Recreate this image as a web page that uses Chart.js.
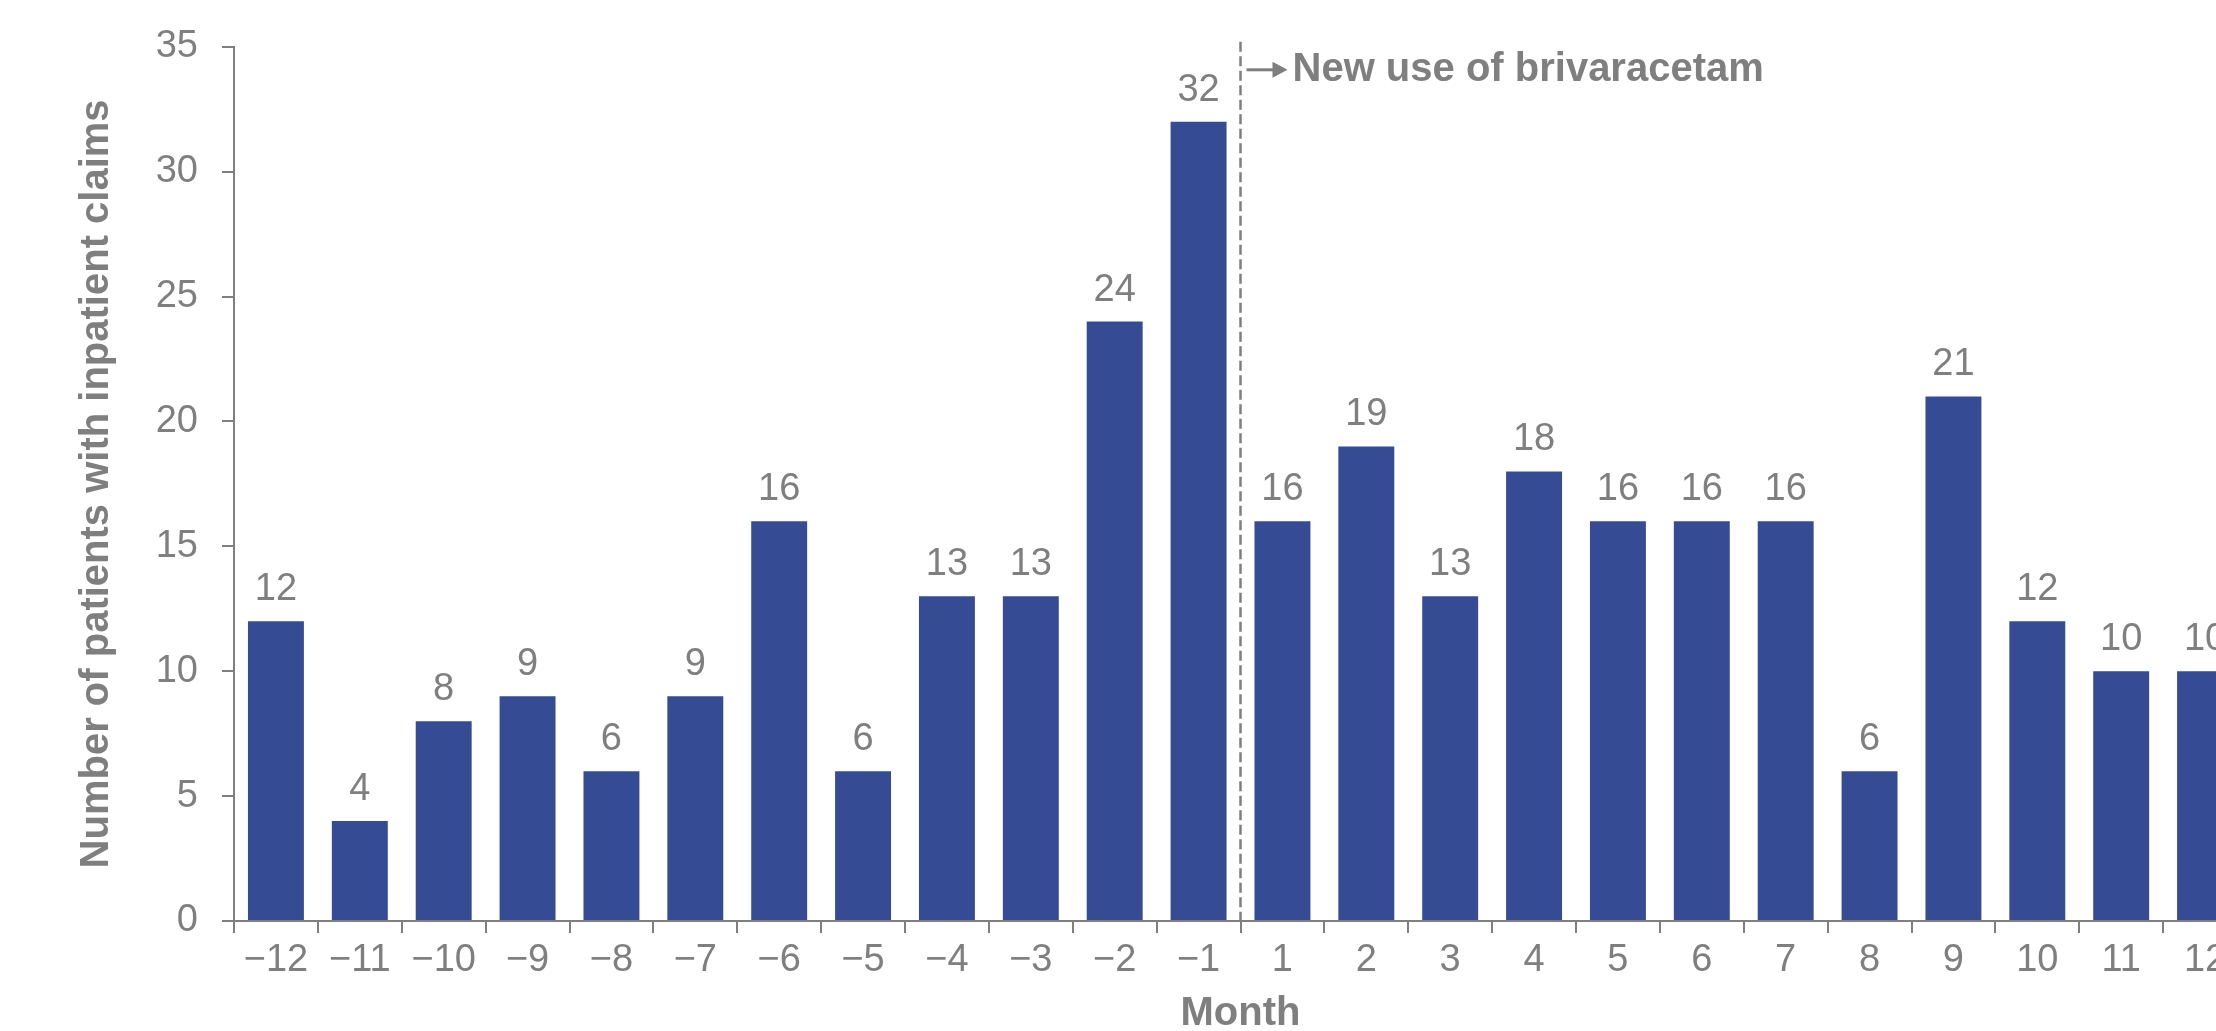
<!DOCTYPE html>
<html>
<head>
<meta charset="utf-8">
<script src="https://cdn.jsdelivr.net/npm/chart.js@4.4.1/dist/chart.umd.min.js"></script>
<style>
  html, body { margin: 0; padding: 0; background: #fff; overflow: hidden; width: 2216px; height: 1031px; }
  #wrap { width: 2216px; height: 1031px; overflow: hidden; }
</style>
</head>
<body>
<div id="wrap"><canvas id="claimsChart" width="2250" height="1031"></canvas></div>
<script>
// months relative to first brivaracetam use
var months = ["\u221212", "\u221211", "\u221210", "\u22129", "\u22128", "\u22127", "\u22126", "\u22125", "\u22124", "\u22123", "\u22122", "\u22121",
              "1", "2", "3", "4", "5", "6", "7", "8", "9", "10", "11", "12"];
var patients = [12, 4, 8, 9, 6, 9, 16, 6, 13, 13, 24, 32,
                16, 19, 13, 18, 16, 16, 16, 6, 21, 12, 10, 10];
var yTicks = [0, 5, 10, 15, 20, 25, 30, 35];
var startIndex = 12; // first month after new use
var annotationText = "New use of brivaracetam";

var gray = '#7f7f7f';
var barBlue = '#354c94';
var fontFamily = '"Liberation Sans", Arial, Helvetica, sans-serif';

// value labels on top of the bars
var barLabels = {
     id: 'barLabels',
     afterDatasetsDraw: function (chart) {
          var ctx = chart.ctx;
          var meta = chart.getDatasetMeta(0);
          ctx.save();
          ctx.font = '38px ' + fontFamily;
          ctx.fillStyle = gray;
          ctx.textAlign = 'center';
          ctx.textBaseline = 'alphabetic';
          meta.data.forEach(function (bar, i) {
               ctx.fillText(String(patients[i]), bar.x, bar.y - 21);
          });
          ctx.restore();
     }
};

// dashed divider + arrow note
var startMarker = {
     id: 'startMarker',
     afterDatasetsDraw: function (chart) {
          var ctx = chart.ctx;
          var xs = chart.scales.x;
          var area = chart.chartArea;
          var lineX = (xs.getPixelForValue(startIndex - 1) + xs.getPixelForValue(startIndex)) / 2;
          ctx.save();
          ctx.strokeStyle = gray;
          ctx.lineWidth = 2.5;
          ctx.setLineDash([10, 4.5]);
          ctx.beginPath();
          ctx.moveTo(lineX, area.top - 5);
          ctx.lineTo(lineX, area.bottom);
          ctx.stroke();
          ctx.setLineDash([]);

          var ay = area.top + 23;
          ctx.lineWidth = 3;
          ctx.beginPath();
          ctx.moveTo(lineX + 6, ay);
          ctx.lineTo(lineX + 34, ay);
          ctx.stroke();
          ctx.fillStyle = gray;
          ctx.beginPath();
          ctx.moveTo(lineX + 32, ay - 8);
          ctx.lineTo(lineX + 47, ay);
          ctx.lineTo(lineX + 32, ay + 8);
          ctx.closePath();
          ctx.fill();

          ctx.font = 'bold 40px ' + fontFamily;
          ctx.textAlign = 'left';
          ctx.textBaseline = 'middle';
          ctx.fillText(annotationText, lineX + 52, ay);
          ctx.restore();
     }
};

function createClaimsChart() {
     var ctx = document.getElementById('claimsChart').getContext('2d');

     window.claimsChart = new Chart(ctx, {
          type: 'bar',
          data: {
               labels: months,
               datasets: [{
                    data: patients,
                    backgroundColor: barBlue,
                    borderWidth: 0,
                    barPercentage: 0.667,
                    categoryPercentage: 1.0
               }]
          },
          options: {
               responsive: false,
               animation: false,
               devicePixelRatio: 1,
               layout: {
                    padding: { top: 39, left: 0, right: 3, bottom: 0 }
               },
               plugins: {
                    legend: { display: false },
                    tooltip: { enabled: false }
               },
               scales: {
                    x: {
                         grid: {
                              offset: true,
                              drawOnChartArea: false,
                              drawTicks: true,
                              tickLength: 12,
                              color: gray,
                              lineWidth: 2
                         },
                         border: { display: true, color: gray, width: 2 },
                         ticks: {
                              color: gray,
                              padding: 5,
                              maxRotation: 0,
                              autoSkip: false,
                              font: { family: fontFamily, size: 38 }
                         },
                         title: {
                              display: true,
                              text: 'Month',
                              color: gray,
                              padding: 0,
                              font: { family: fontFamily, size: 40, weight: 'bold', lineHeight: 0.85 }
                         },
                         afterFit: function (scale) { scale.height = 110; }
                    },
                    y: {
                         min: 0,
                         max: 35,
                         afterBuildTicks: function (scale) {
                              scale.ticks = yTicks.map(function (v) { return { value: v }; });
                         },
                         grid: {
                              drawOnChartArea: false,
                              drawTicks: true,
                              tickLength: 12,
                              color: gray,
                              lineWidth: 2
                         },
                         border: { display: true, color: gray, width: 2 },
                         ticks: {
                              color: gray,
                              padding: 24,
                              font: { family: fontFamily, size: 38 }
                         },
                         title: {
                              display: true,
                              text: 'Number of patients with inpatient claims',
                              color: gray,
                              padding: { top: 73, bottom: 0 },
                              font: { family: fontFamily, size: 40, weight: 'bold' }
                         },
                         afterFit: function (scale) { scale.width = 234; }
                    }
               }
          },
          plugins: [barLabels, startMarker]
     });
}

document.addEventListener('DOMContentLoaded', function () {
     createClaimsChart();
});
</script>
</body>
</html>
